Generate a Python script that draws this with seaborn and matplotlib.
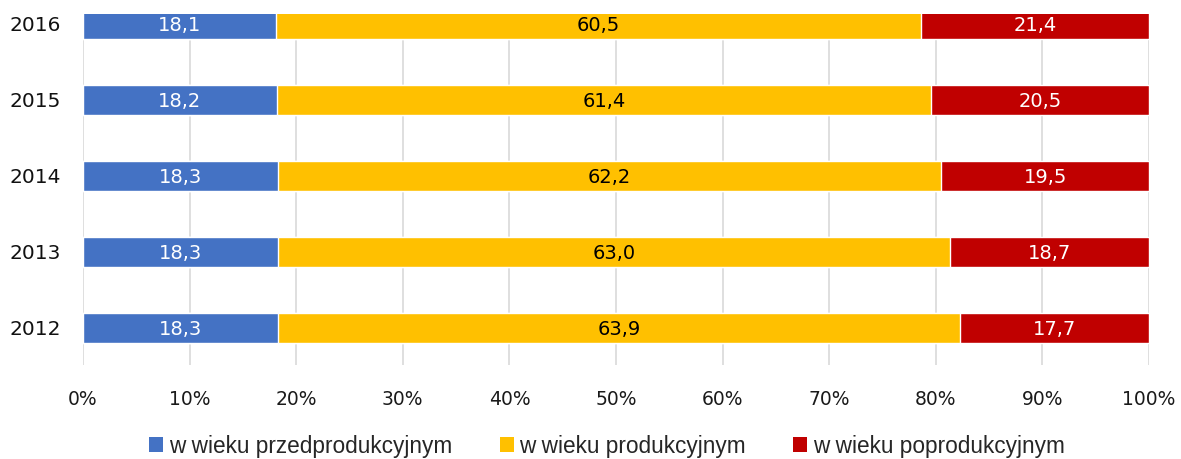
import numpy as np
import pandas as pd
import matplotlib
matplotlib.use("Agg")
import matplotlib.pyplot as plt
import seaborn as sns
from matplotlib.patches import Patch

# dane: struktura ludności wg ekonomicznych grup wieku (%)
years = ["2016", "2015", "2014", "2013", "2012"]
przed = [18.1, 18.2, 18.3, 18.3, 18.3]
prod = [60.5, 61.4, 62.2, 63.0, 63.9]
poprod = [21.4, 20.5, 19.5, 18.7, 17.7]

series_names = ["w wieku przedprodukcyjnym", "w wieku produkcyjnym", "w wieku poprodukcyjnym"]
colors = ["#4472C4", "#FFC000", "#C00000"]
label_colors = ["white", "#000000", "white"]

df = pd.DataFrame({"Rok": years, "przed": przed, "prod": prod, "poprod": poprod})
total = df[["przed", "prod", "poprod"]].sum(axis=1)
# 100% stacked - udziały
for c in ["przed", "prod", "poprod"]:
    df[c + "_pct"] = df[c] / total * 100
df["cum1"] = df["przed_pct"]
df["cum2"] = df["cum1"] + df["prod_pct"]
df["cum3"] = df["cum2"] + df["poprod_pct"]

sns.set_style("white")
plt.rcParams["font.family"] = ["DejaVu Sans"]

fig = plt.figure(figsize=(11.81, 4.59), dpi=100)
ax = fig.add_axes([83 / 1181, 1 - 365 / 459, (1149 - 83) / 1181, (365 - 14) / 459])

# nakładanie słupków od sumy do pierwszej serii
for col, color in zip(["cum3", "cum2", "cum1"], colors[::-1]):
    sns.barplot(data=df, x=col, y="Rok", order=years, color=color, orient="h",
                width=0.39, saturation=1, ax=ax, zorder=3)

# etykiety danych
for i, row in df.iterrows():
    starts = [0, row["cum1"], row["cum2"]]
    pcts = [row["przed_pct"], row["prod_pct"], row["poprod_pct"]]
    vals = [row["przed"], row["prod"], row["poprod"]]
    for s, p, v, tc in zip(starts, pcts, vals, label_colors):
        ax.text(s + p / 2, i, f"{v:.1f}".replace(".", ","), ha="center", va="center_baseline",
                color=tc, fontsize=14, zorder=4)

ax.set_xlim(0, 100)
ax.set_ylim(4.49, -0.13)
ax.set_xticks(np.arange(0, 101, 10))
ax.set_xticklabels([f"{t}%" for t in range(0, 101, 10)], fontsize=13.5, color="#1a1a1a")
ax.tick_params(axis="y", labelsize=14.5, pad=16, length=0, labelcolor="#111111")
ax.tick_params(axis="x", pad=18, length=0)
ax.set_xlabel("")
ax.set_ylabel("")
ax.grid(axis="x", color="#d9d9d9", linewidth=1.2, zorder=0)
ax.set_axisbelow(True)
for sp in ax.spines.values():
    sp.set_visible(False)

handles = [Patch(facecolor=c, edgecolor="none") for c in colors]
fig.legend(handles, series_names, loc="center", bbox_to_anchor=(607 / 1181, 1 - 446 / 459),
           ncol=3, frameon=False, handlelength=0.62, handleheight=0.62,
           handletextpad=0.25, columnspacing=2.1, borderpad=0.1,
           prop={"family": "Liberation Sans", "size": 16.3})

fig.savefig("out.png", dpi=100)
